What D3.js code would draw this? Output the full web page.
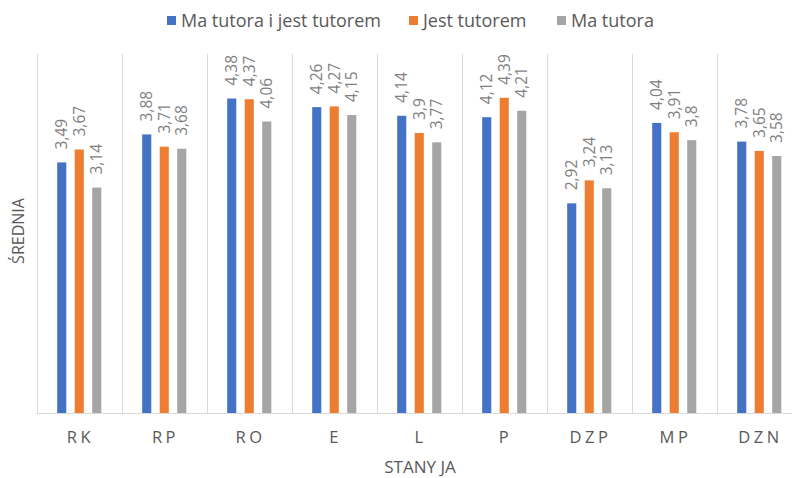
<!DOCTYPE html>
<html><head><meta charset="utf-8">
<script src="https://cdn.jsdelivr.net/npm/d3@7"></script>
<style>body{margin:0;background:#fff}svg{display:block}</style>
</head><body>
<script>
const categories = ["RK","RP","RO","E","L","P","DZP","MP","DZN"];
const seriesNames = ["Ma tutora i jest tutorem","Jest tutorem","Ma tutora"];
const maIJest = [3.49,3.88,4.38,4.26,4.14,4.12,2.92,4.04,3.78];
const jestTutorem = [3.67,3.71,4.37,4.27,3.9,4.39,3.24,3.91,3.65];
const maTutora = [3.14,3.68,4.06,4.15,3.77,4.21,3.13,3.8,3.58];
const seriesValues = [maIJest, jestTutorem, maTutora];
const colors = ["#4472C4","#ED7D31","#A5A5A5"];

(function(){
const W=792,H=478;
const svg=d3.select("body").append("svg").attr("width",W).attr("height",H);
const font="'Open Sans', 'Liberation Sans', sans-serif";
const plotLeft=36.5, plotTop=54, plotBottom=413;
const x=d3.scaleBand().domain(categories).range([plotLeft,plotLeft+85*9]).padding(0);
const xs=d3.scaleBand().domain(d3.range(3)).range([20.7,64.8]).paddingInner(0.48).paddingOuter(0);
const y=d3.scaleLinear().domain([0,5]).range([plotBottom,plotTop]);

const g=svg.append("g");
categories.forEach((c)=>{
  g.append("line").attr("x1",Math.round(x(c))+0.5).attr("x2",Math.round(x(c))+0.5)
   .attr("y1",plotTop).attr("y2",plotBottom).attr("stroke","#d9d9d9").attr("stroke-width",1);
});
g.append("line").attr("x1",plotLeft).attr("x2",W).attr("y1",plotBottom+0.5).attr("y2",plotBottom+0.5)
  .attr("stroke","#d9d9d9").attr("stroke-width",1);

seriesValues.forEach((vals,si)=>{
  svg.append("g").selectAll("rect").data(vals).join("rect")
    .attr("x",(d,i)=>x(categories[i])+xs(si))
    .attr("width",xs.bandwidth())
    .attr("y",d=>y(d)).attr("height",d=>plotBottom-y(d))
    .attr("fill",colors[si]);
  svg.append("g").selectAll("text").data(vals).join("text")
    .attr("transform",(d,i)=>`translate(${x(categories[i])+xs(si)+xs.bandwidth()/2},${y(d)-13}) rotate(-90)`)
    .attr("dy","0.36em")
    .attr("text-anchor","start")
    .attr("font-family",font).attr("font-size",15.5).attr("fill","#7f7f7f")
    .text(d=>String(d).replace(".",","));
});

svg.append("g").selectAll("text").data(categories).join("text")
  .attr("x",c=>x(c)+x.bandwidth()/2+1.5).attr("y",443)
  .attr("text-anchor","middle").attr("font-family",font).attr("font-size",16.5)
  .attr("letter-spacing",3.5).attr("fill","#595959").text(c=>c);

svg.append("text").attr("x",420).attr("y",473).attr("text-anchor","middle")
  .attr("font-family",font).attr("font-size",17).attr("fill","#595959").text("STANY JA");
svg.append("text").attr("transform","translate(18,231) rotate(-90)").attr("text-anchor","middle")
  .attr("dy","0.35em").attr("font-family",font).attr("font-size",16).attr("fill","#595959").text("ŚREDNIA");

const legX=[167,409,557];
seriesNames.forEach((n,i)=>{
  svg.append("rect").attr("x",legX[i]).attr("y",16).attr("width",9).attr("height",9).attr("fill",colors[i]);
  svg.append("text").attr("x",legX[i]+14).attr("y",27).attr("font-family",font).attr("font-size",18)
    .attr("fill","#595959").text(n);
});
})();
</script>
</body></html>
